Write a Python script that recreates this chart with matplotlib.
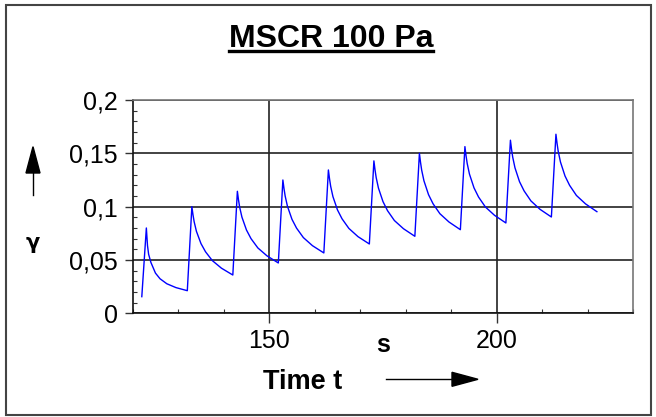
import numpy as np
import matplotlib
matplotlib.use("Agg")
import matplotlib.pyplot as plt
from matplotlib.ticker import MultipleLocator, FuncFormatter
from matplotlib.lines import Line2D
from matplotlib.patches import Polygon, Rectangle

plt.rcParams['font.family'] = ['Liberation Sans', 'DejaVu Sans']

# creep (1 s) / recovery (9 s) cycles
cycle_start = [122, 132, 142, 152, 162, 172, 182, 192, 202, 212]
offsets = [0, 1, 1.25, 1.5, 2, 3, 4, 5.5, 7.5, 10]
strain = [
    [0.0156, 0.0800, 0.0635, 0.0553, 0.0477, 0.0377, 0.0324, 0.0277, 0.0241, 0.0212],
    [0.0212, 0.1000, 0.0923, 0.0859, 0.0769, 0.0654, 0.0577, 0.0494, 0.0423, 0.0359],
    [0.0359, 0.1144, 0.1063, 0.0996, 0.0902, 0.0781, 0.0700, 0.0613, 0.0539, 0.0472],
    [0.0472, 0.1250, 0.1168, 0.1100, 0.1004, 0.0881, 0.0799, 0.0710, 0.0634, 0.0566],
    [0.0566, 0.1344, 0.1261, 0.1191, 0.1094, 0.0969, 0.0886, 0.0796, 0.0719, 0.0650],
    [0.0650, 0.1429, 0.1344, 0.1273, 0.1174, 0.1047, 0.0962, 0.0870, 0.0793, 0.0722],
    [0.0722, 0.1500, 0.1414, 0.1342, 0.1242, 0.1113, 0.1027, 0.0934, 0.0856, 0.0784],
    [0.0784, 0.1563, 0.1477, 0.1405, 0.1305, 0.1176, 0.1090, 0.0997, 0.0919, 0.0847],
    [0.0847, 0.1623, 0.1537, 0.1465, 0.1364, 0.1234, 0.1148, 0.1054, 0.0975, 0.0903],
    [0.0903, 0.1679, 0.1592, 0.1519, 0.1418, 0.1287, 0.1200, 0.1105, 0.1026, 0.0953],
]

W, H = 656, 417


def fx(px):
    return px / W


def fy(py):
    return 1 - py / H


fig = plt.figure(figsize=(W / 100, H / 100), dpi=100)
ax = fig.add_axes([fx(132.7), fy(313.3), fx(633.3) - fx(132.7), fy(100) - fy(313.3)])

t = np.concatenate([s + np.array(offsets) for s in cycle_start])
g = np.concatenate([np.array(row) for row in strain])
ax.plot(t, g, color='#0000ff', lw=1.0, zorder=3)

ax.set_xlim(120, 230)
ax.set_ylim(0, 0.2)

ax.xaxis.set_major_locator(MultipleLocator(50))
ax.xaxis.set_minor_locator(MultipleLocator(10))
ax.yaxis.set_major_locator(MultipleLocator(0.05))
ax.yaxis.set_minor_locator(MultipleLocator(0.01))
ax.yaxis.set_major_formatter(FuncFormatter(lambda v, p: ('%g' % round(v, 3)).replace('.', ',')))

ax.tick_params(axis='x', which='major', direction='out', length=7.5, width=1.0,
               labelsize=18, pad=4, color='#333')
ax.tick_params(axis='x', which='minor', direction='in', length=3, width=0.8, color='#333')
ax.tick_params(axis='y', which='major', direction='out', length=6, width=1.0,
               labelsize=18, pad=4.5, color='#333')
ax.tick_params(axis='y', which='minor', direction='in', length=3, width=0.8, color='#333')

ax.grid(True, which='major', color='#222', lw=1.2)
ax.set_axisbelow(True)

for side in ['left', 'bottom']:
    ax.spines[side].set_color('#111')
    ax.spines[side].set_linewidth(1.2)
for side in ['top', 'right']:
    ax.spines[side].set_color('#777')
    ax.spines[side].set_linewidth(1.2)

# unit label between the tick labels
fig.text(fx(383), fy(352), 's', ha='center', va='baseline', fontsize=18, fontweight='bold')

# title with underline
title = fig.text(fx(331), fy(46.7), 'MSCR 100 Pa', ha='center', va='baseline',
                 fontsize=23, fontweight='bold')
fig.canvas.draw()
bb = title.get_window_extent()
fig.add_artist(Line2D([bb.x0 / W, bb.x1 / W], [fy(51), fy(51)], color='k', lw=2.4,
                      transform=fig.transFigure))

# x axis label and arrow
fig.text(fx(302.5), fy(388.7), 'Time t', ha='center', va='baseline', fontsize=19.5,
         fontweight='bold')
fig.add_artist(Line2D([fx(386), fx(455)], [fy(379.3), fy(379.3)], color='k', lw=1.0,
                      transform=fig.transFigure))
fig.add_artist(Polygon([[fx(452), fy(372.3)], [fx(478), fy(379.3)], [fx(452), fy(386.3)]],
                       closed=True, color='k', transform=fig.transFigure))

# y axis label and arrow
fig.text(fx(33), fy(243), 'γ', ha='center', va='center', fontsize=15, fontweight='bold',
         family=['DejaVu Sans'])
fig.add_artist(Line2D([fx(33), fx(33)], [fy(195), fy(170)], color='k', lw=1.0,
                      transform=fig.transFigure))
fig.add_artist(Polygon([[fx(26), fy(173)], [fx(33), fy(146.7)], [fx(40), fy(173)]],
                       closed=True, color='k', transform=fig.transFigure))

# outer frame
fig.add_artist(Rectangle((fx(5.5), fy(415.3)), fx(650.5) - fx(5.5), fy(5) - fy(415.3),
                         fill=False, edgecolor='#444', lw=1.5, transform=fig.transFigure))

fig.savefig('out.png', dpi=100)
